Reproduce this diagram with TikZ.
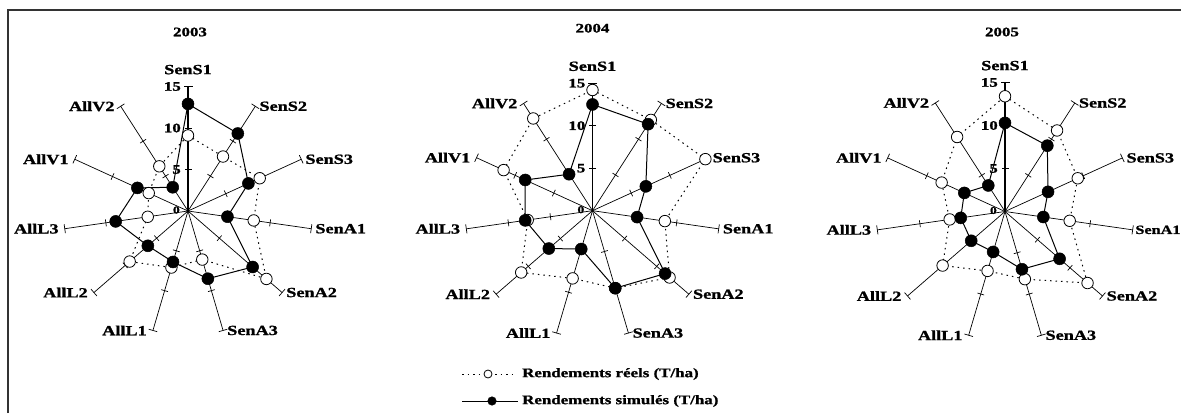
\documentclass[tikz,border=0pt]{standalone}
\usepackage{fontspec}
\setmainfont{Liberation Serif}[FakeStretch=1.3, BoldFeatures={FakeBold=1.2}]
\tikzset{
  axisline/.style={line width=0.7pt, black},
  valaxis/.style={line width=1.1pt, black},
  realline/.style={line width=1pt, dash pattern=on 1.5pt off 4pt, black},
  simline/.style={line width=1pt, black},
  realmark/.style={circle, draw=black, fill=white, line width=0.8pt, minimum size=11.5pt, inner sep=0pt},
  simmark/.style={circle, draw=black, fill=black, line width=0.5pt, minimum size=12pt, inner sep=0pt},
  axlab/.style={font=\fontsize{14}{16}\selectfont\bfseries, inner sep=0pt},
  numlab/.style={font=\fontsize{13}{15}\selectfont\bfseries, inner sep=0pt, anchor=east},
  zerolab/.style={font=\fontsize{10.5}{12}\selectfont\bfseries, inner sep=0pt, anchor=east},
  titlab/.style={font=\fontsize{13}{15}\selectfont\bfseries, inner sep=0pt},
  leglab/.style={font=\fontsize{13}{15}\selectfont\bfseries, inner sep=0pt, anchor=west},
  framestyle/.style={line width=1.8pt, black!80, line join=miter},
  c-lab3/.style={font=\fontsize{12.5}{14}\selectfont\bfseries, xshift=-1.5pt}
}
% #1 prefix, #2 centre, #3 px per unit, #4 title, #5 title offset, #6 real values, #7 simulated values
\newcommand{\radarchart}[7]{%
\begin{scope}[shift={#2}]
  \coordinate (#1-o) at (0,0);
  \foreach \lab [count=\k from 0] in {SenS1,SenS2,SenS3,SenA1,SenA2,SenA3,AllL1,AllL2,AllL3,AllV1,AllV2}{
    \pgfmathsetmacro\ang{90-\k*360/11}
    \pgfmathsetmacro\R{15*#3}
    \coordinate (#1-e\k) at (\ang:\R);
    \ifnum\k=0
      \draw[valaxis] (#1-o) -- (#1-e\k);
    \else
      \draw[axisline] (#1-o) -- (#1-e\k);
    \fi
    \foreach \t in {5,10}{
      \pgfmathsetmacro\r{\t*#3}
      \draw[axisline, shift={(\ang:\r)}, rotate=\ang] (0,-3.5) -- (0,3.5);
    }
    \draw[axisline, shift={(\ang:\R)}, rotate=\ang] (0,-4.5) -- (0,4.5);
    \ifnum\k=0
      \node[axlab, anchor=south] (#1-l\k) at ([yshift=12pt]#1-e\k) {\lab};
    \else\ifnum\k<6
      \node[axlab, anchor=west, #1-lab\k/.try] (#1-l\k) at ([xshift=4pt]#1-e\k) {\lab};
    \else
      \node[axlab, anchor=east] (#1-l\k) at ([xshift=-6pt]#1-e\k) {\lab};
    \fi\fi
  }
  \node[numlab] (#1-n15) at (-7,15*#3) {15};
  \node[numlab] (#1-n10) at (-7,10*#3) {10};
  \node[numlab] (#1-n5) at (-7,5*#3) {5};
  \node[zerolab] (#1-n0) at (-8,1) {0};
  \node[titlab] (#1-title) at (#5) {#4};
  \foreach \v [count=\k from 0] in {#6}{
    \pgfmathsetmacro\ang{90-\k*360/11}
    \pgfmathsetmacro\r{\v*#3}
    \coordinate (#1-w\k) at (\ang:\r);
  }
  \foreach \v [count=\k from 0] in {#7}{
    \pgfmathsetmacro\ang{90-\k*360/11}
    \pgfmathsetmacro\r{\v*#3}
    \coordinate (#1-b\k) at (\ang:\r);
  }
  \draw[realline] (#1-w0) \foreach \k in {1,...,10}{ -- (#1-w\k)} -- cycle;
  \draw[simline] (#1-b0) \foreach \k in {1,...,10}{ -- (#1-b\k)} -- cycle;
  \foreach \k in {0,...,10}{ \node[realmark] (#1-mw\k) at (#1-w\k) {}; }
  \foreach \k in {0,...,10}{ \node[simmark] (#1-mb\k) at (#1-b\k) {}; }
\end{scope}}
\begin{document}
\begin{tikzpicture}[x=1pt,y=1pt]
\useasboundingbox (0,0) rectangle (1181,413);
\fill[white] (0,0) rectangle (1181,413);
\coordinate (fr-a) at (8,0);
\coordinate (fr-b) at (8,403);
\coordinate (fr-c) at (1181,403);
\draw[framestyle] (fr-a) -- (fr-b) -- (fr-c);

\radarchart{a}{(188,202)}{8.3}{2003}{2,179}{9.1,7.8,9.5,8.0,12.5,6.1,7.1,9.3,4.9,5.2,6.4}{12.9,11.1,8.0,4.8,10.3,8.5,6.4,6.4,8.8,6.7,3.4}
\radarchart{b}{(592.5,202.3)}{8.5}{2004}{0,182.5}{14.2,12.7,14.6,8.6,12.0,9.5,8.3,11.1,7.7,11.5,12.9}{12.5,12.1,6.9,5.3,11.3,9.5,4.7,6.8,8.0,8.7,5.1}
\radarchart{c}{(1005,201.5)}{8.6}{2005}{-3,179.5}{13.4,11.2,9.3,7.6,12.7,8.2,7.2,9.6,6.5,8.1,10.3}{10.3,9.1,5.5,4.5,8.4,7.0,4.9,5.2,5.2,5.2,3.6}

% legend
\coordinate (lg-a1) at (462,39);
\coordinate (lg-a2) at (515,39);
\draw[realline] (lg-a1) -- (lg-a2);
\node[realmark, minimum size=8pt] (lg-m1) at (488,39) {};
\node[leglab] (lg-t1) at (522,39) {Rendements réels (T/ha)};
\coordinate (lg-b1) at (462,12);
\coordinate (lg-b2) at (518,12);
\draw[simline] (lg-b1) -- (lg-b2);
\node[simmark, minimum size=8.5pt] (lg-m2) at (492,12) {};
\node[leglab] (lg-t2) at (522,12) {Rendements simulés (T/ha)};
\end{tikzpicture}
\end{document}
